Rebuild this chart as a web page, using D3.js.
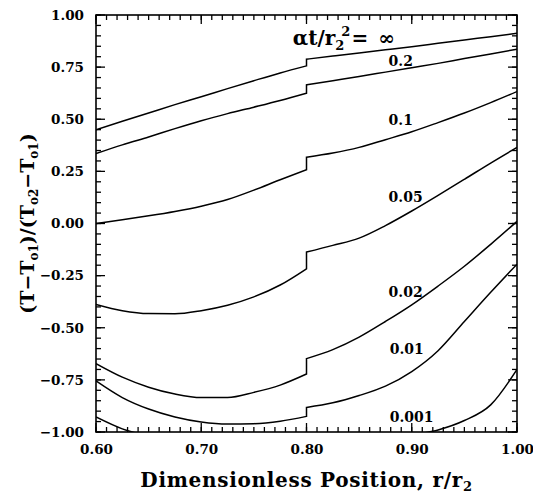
<!DOCTYPE html>
<html>
<head>
<meta charset="utf-8">
<script src="https://cdn.jsdelivr.net/npm/d3@7/dist/d3.min.js"></script>
<style>
  body { margin: 0; background: #fff; }
  text { font-family: "DejaVu Serif", serif; font-weight: bold; fill: #000; }
</style>
</head>
<body>
<div id="chart"></div>
<script>
// r/r2 positions: inner layer up to the interface (0.80), then the outer layer
const xPos = [0.60, 0.625, 0.65, 0.675, 0.70, 0.725, 0.75, 0.775, 0.80,
              0.80, 0.825, 0.85, 0.875, 0.90, 0.925, 0.95, 0.975, 1.00];

// dimensionless temperature for each time alpha*t/r2^2
const thetaInf  = [0.450, 0.490, 0.530, 0.570, 0.608, 0.647, 0.685, 0.722, 0.756,
                   0.788, 0.803, 0.818, 0.833, 0.848, 0.864, 0.880, 0.896, 0.912];
const theta0200 = [0.335, 0.377, 0.415, 0.455, 0.493, 0.527, 0.558, 0.590, 0.625,
                   0.665, 0.685, 0.705, 0.726, 0.747, 0.768, 0.791, 0.813, 0.836];
const theta0100 = [0.000, 0.018, 0.037, 0.058, 0.083, 0.115, 0.160, 0.210, 0.258,
                   0.318, 0.338, 0.365, 0.402, 0.440, 0.484, 0.530, 0.580, 0.633];
const theta0050 = [-0.388, -0.418, -0.432, -0.433, -0.418, -0.392, -0.352, -0.295, -0.217,
                   -0.137, -0.105, -0.070, -0.010, 0.060, 0.135, 0.212, 0.290, 0.365];
const theta0020 = [-0.672, -0.737, -0.785, -0.818, -0.835, -0.835, -0.810, -0.775, -0.722,
                   -0.648, -0.605, -0.545, -0.470, -0.390, -0.300, -0.205, -0.100, 0.010];
const theta0010 = [-0.755, -0.835, -0.890, -0.928, -0.952, -0.962, -0.960, -0.948, -0.925,
                   -0.882, -0.860, -0.825, -0.780, -0.710, -0.610, -0.470, -0.330, -0.195];
const theta0001 = [-0.928, -0.985, -1.020, -1.045, -1.060, -1.070, -1.070, -1.070, -1.070,
                   -1.060, -1.060, -1.050, -1.040, -1.015, -0.990, -0.945, -0.870, -0.700];

const series = [thetaInf, theta0200, theta0100, theta0050, theta0020, theta0010, theta0001];
const curveLabels = ["", "0.2", "0.1", "0.05", "0.02", "0.01", "0.001"];
// label anchor (left, baseline) in data units
const labelX = [0.787, 0.878, 0.878, 0.878, 0.878, 0.879, 0.879];
const labelY = [0.856, 0.756, 0.474, 0.105, -0.354, -0.627, -0.952];

const yMajor = [-1.00, -0.75, -0.50, -0.25, 0.00, 0.25, 0.50, 0.75, 1.00];
const xMajor = [0.60, 0.70, 0.80, 0.90, 1.00];

const width = 533, height = 493;
const margin = { top: 15, right: 16, bottom: 61, left: 96 };
const w = width - margin.left - margin.right;
const h = height - margin.top - margin.bottom;

const svg = d3.select("#chart").append("svg")
  .attr("width", width)
  .attr("height", height);

const g = svg.append("g")
  .attr("transform", "translate(" + margin.left + "," + margin.top + ")");

const x = d3.scaleLinear().domain([0.6, 1.0]).range([0, w]);
const y = d3.scaleLinear().domain([-1, 1]).range([h, 0]);

const xMinor = d3.range(60, 101).map(d => d / 100);
const yMinor = d3.range(-20, 21).map(d => d / 20);
const fmt = d3.format(".2f");

// tick labels from d3 axes
const yAxis = g.append("g")
  .call(d3.axisLeft(y).tickValues(yMajor).tickSize(0).tickPadding(12).tickFormat(fmt));
const xAxis = g.append("g")
  .attr("transform", "translate(0," + h + ")")
  .call(d3.axisBottom(x).tickValues(xMajor).tickSize(0).tickPadding(12).tickFormat(fmt));
[yAxis, xAxis].forEach(ax => {
  ax.select(".domain").remove();
  ax.attr("font-family", null);
  ax.selectAll("text").style("font-size", "13.5px");
});

// inward tick marks on all four sides
const tickG = g.append("g").attr("stroke", "#000").attr("stroke-width", 1.3);
function yTicks(vals, len) {
  tickG.selectAll(null).data(vals).enter().append("line")
    .attr("x1", 0).attr("x2", len)
    .attr("y1", d => y(d)).attr("y2", d => y(d));
  tickG.selectAll(null).data(vals).enter().append("line")
    .attr("x1", w).attr("x2", w - len)
    .attr("y1", d => y(d)).attr("y2", d => y(d));
}
function xTicks(vals, len) {
  tickG.selectAll(null).data(vals).enter().append("line")
    .attr("y1", h).attr("y2", h - len)
    .attr("x1", d => x(d)).attr("x2", d => x(d));
  tickG.selectAll(null).data(vals).enter().append("line")
    .attr("y1", 0).attr("y2", len)
    .attr("x1", d => x(d)).attr("x2", d => x(d));
}
yTicks(yMinor, 5);
yTicks(yMajor, 9);
xTicks(xMinor, 5);
xTicks(xMajor, 9);

g.append("rect")
  .attr("width", w)
  .attr("height", h)
  .attr("fill", "none")
  .attr("stroke", "#000")
  .attr("stroke-width", 1.6);

svg.append("clipPath").attr("id", "plotClip")
  .append("rect").attr("width", w).attr("height", h);

const line = d3.line()
  .x(d => x(d[0]))
  .y(d => y(d[1]))
  .curve(d3.curveMonotoneX);

const curves = g.append("g").attr("clip-path", "url(#plotClip)");

series.forEach(vals => {
  const pts = xPos.map((p, i) => [p, vals[i]]);
  const inner = pts.slice(0, 9);
  const outer = pts.slice(9);
  const d = line(inner) + line(outer).replace(/^M/, "L");
  curves.append("path")
    .attr("d", d)
    .attr("fill", "none")
    .attr("stroke", "#000")
    .attr("stroke-width", 1.5);
});

// curve labels
g.selectAll(".clabel")
  .data(curveLabels.slice(1))
  .enter()
  .append("text")
  .attr("class", "clabel")
  .attr("x", (d, i) => x(labelX[i + 1]))
  .attr("y", (d, i) => y(labelY[i + 1]))
  .style("font-size", "14px")
  .text(d => d);

// alpha t / r2^2 = infinity
const timeLabel = g.append("text")
  .attr("x", x(labelX[0]))
  .attr("y", y(labelY[0]))
  .style("font-size", "20px");
timeLabel.append("tspan").text("\u03b1t/r");
timeLabel.append("tspan").attr("dy", 5).style("font-size", "13px").text("2");
timeLabel.append("tspan").attr("dx", -3).attr("dy", -14).style("font-size", "13px").text("2");
timeLabel.append("tspan").attr("dx", 1).attr("dy", 9).text("=");
timeLabel.append("tspan").attr("dx", 10).text("\u221e");

// x axis title
const xt = svg.append("text")
  .attr("x", margin.left + w / 2)
  .attr("y", 487)
  .attr("text-anchor", "middle")
  .style("font-size", "20px")
  .style("letter-spacing", "0.7px");
xt.append("tspan").text("Dimensionless Position, r/r");
xt.append("tspan").attr("dy", 4).style("font-size", "13px").text("2");

// y axis title
const yt = svg.append("text")
  .attr("transform", "translate(34," + (margin.top + h / 2) + ") rotate(-90)")
  .attr("text-anchor", "middle")
  .style("font-size", "19px");
yt.append("tspan").text("(T\u2212T");
yt.append("tspan").attr("dy", 4).style("font-size", "12px").text("o1");
yt.append("tspan").attr("dy", -4).text(")/(T");
yt.append("tspan").attr("dy", 4).style("font-size", "12px").text("o2");
yt.append("tspan").attr("dy", -4).text("\u2212T");
yt.append("tspan").attr("dy", 4).style("font-size", "12px").text("o1");
yt.append("tspan").attr("dy", -4).text(")");
</script>
</body>
</html>
